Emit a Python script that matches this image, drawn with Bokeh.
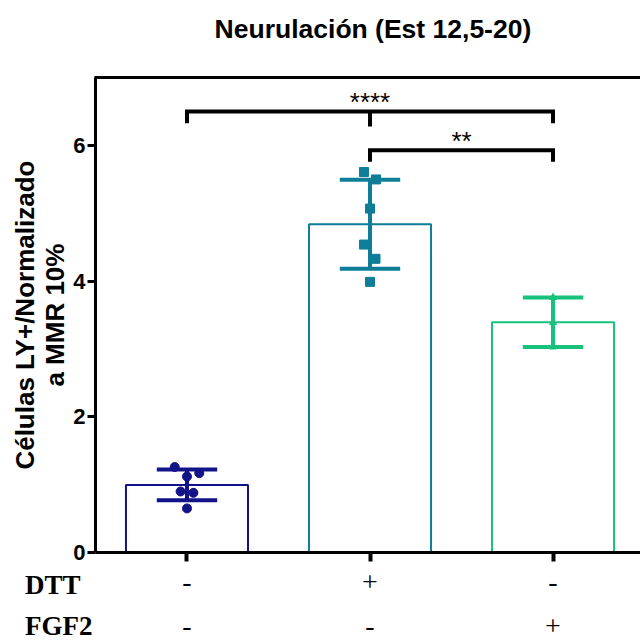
import numpy as np
from bokeh.plotting import figure
from bokeh.models import Range1d, LinearAxis, FixedTicker, Label
from bokeh.core.properties import value
from bokeh.embed import file_html
from bokeh.resources import INLINE

# ---- data ----
groups = ["ctrl", "DTT", "FGF2"]
xpos = [1, 2, 3]
dtt_signs = ["-", "+", "-"]
fgf2_signs = ["-", "-", "+"]
row_names = ["DTT", "FGF2"]
vals_ctrl = [1.26, 1.12, 1.17, 0.90, 0.88, 0.65]
vals_dtt = [5.61, 5.50, 5.07, 4.54, 4.33, 3.99]
vals_fgf2 = [3.76, 3.39, 3.03]
jit_ctrl = [-0.067, 0.0, 0.067, -0.035, 0.035, 0.0]
jit_dtt = [-0.033, 0.033, 0.0, -0.033, 0.03, 0.0]
jit_fgf2 = [0.0, 0.0, 0.0]
yticks = [0, 2, 4, 6]
comparisons = [(1, 3, "****", 6.50), (2, 3, "**", 5.93)]
title_text = "Neurulación (Est 12,5-20)"
ylabel_text = "Células LY+/Normalizado\na MMR 10%"

colors = ["#121289", "#0E7E98", "#19C27C"]
markers = ["circle", "square", "triangle"]
msizes = [9, 9, 7]
all_vals = [vals_ctrl, vals_dtt, vals_fgf2]
all_jit = [jit_ctrl, jit_dtt, jit_fgf2]

# plotting area in data units: x 0.5..3.478, y 0..7 ; canvas extends beyond it
XA, XB = 0.5, 3.478
YA, YB = 0.0, 7.0
X_LEFT = -0.019
PX = 183.0  # pixels per x unit
p = figure(width=640, height=641, output_backend="svg", toolbar_location=None,
           x_range=Range1d(X_LEFT, XB), y_range=Range1d(-1.312, 8.138),
           x_axis_location=None, y_axis_location=None,
           min_border_left=0, min_border_right=0, min_border_top=0,
           min_border_bottom=0)
p.outline_line_color = None
p.grid.visible = False

means = [float(np.mean(v)) for v in all_vals]
sds = [float(np.std(v, ddof=1)) for v in all_vals]

bw = 0.667
for i in range(3):
    x = xpos[i]
    p.vbar(x=[x], top=[means[i]], width=bw, bottom=0, fill_color="white",
           line_color=colors[i], line_width=2)
for i in range(3):
    x = xpos[i]
    lo, hi = means[i] - sds[i], means[i] + sds[i]
    p.segment(x0=[x], y0=[lo], x1=[x], y1=[hi], line_color=colors[i], line_width=4)
    p.segment(x0=[x - 0.165, x - 0.165], y0=[lo, hi], x1=[x + 0.165, x + 0.165],
              y1=[lo, hi], line_color=colors[i], line_width=4)
    xs = [x + j for j in all_jit[i]]
    p.scatter(x=xs, y=all_vals[i], marker=markers[i], size=msizes[i],
              fill_color=colors[i], line_color=colors[i])

# significance brackets
for (a, b, stars, yb) in comparisons:
    drop = 0.17
    p.line(x=[a, a, b, b], y=[yb - drop, yb, yb, yb - drop], line_color="black",
           line_width=4, line_join="miter")
    for m in xpos:
        if a < m < b:
            p.segment(x0=[m], y0=[yb], x1=[m], y1=[yb - drop - 0.05],
                      line_color="black", line_width=4)
    p.add_layout(Label(x=(a + b) / 2, y=yb + 0.14, text=stars, text_align="center",
                       text_baseline="alphabetic", text_font="Liberation Sans",
                       text_font_size="26px", text_color="black"))

# axes fixed at the plotting-area edges
yax = LinearAxis(fixed_location=XA, bounds=(YA, YB), ticker=FixedTicker(ticks=yticks),
                 axis_line_width=3, major_tick_line_width=3, major_tick_out=8,
                 major_tick_in=0, minor_tick_line_color=None,
                 major_label_text_font="Liberation Sans",
                 major_label_text_font_style="bold",
                 major_label_text_font_size="22px", major_label_text_color="black",
                 major_label_standoff=2)
p.add_layout(yax, "left")

# x axis: its tick labels are the DTT row of signs
xax = LinearAxis(fixed_location=YA, bounds=(XA, XB), ticker=FixedTicker(ticks=xpos),
                 axis_line_width=3, major_tick_line_width=4, major_tick_out=9,
                 major_tick_in=0, minor_tick_line_color=None,
                 major_label_overrides={xpos[i]: dtt_signs[i] for i in range(3)},
                 major_label_text_font="Liberation Serif",
                 major_label_text_font_size="28px", major_label_text_color="black",
                 major_label_standoff=11)
p.add_layout(xax, "below")

tax = LinearAxis(fixed_location=YB, bounds=(XA - 0.008, XB), ticker=FixedTicker(ticks=[]),
                 axis_line_width=3, major_tick_line_color=None,
                 minor_tick_line_color=None, major_label_text_font_size="0px")
p.add_layout(tax, "above")

# y axis title (rotated, two centred lines)
ylines = ylabel_text.split("\n")
p.text(x=[X_LEFT + 24 / PX], y=[3.5], text=[ylines[0]],
       angle=np.pi / 2, text_align="center", text_baseline="middle",
       text_font=value("Liberation Sans"), text_font_style="bold",
       text_font_size="26px", text_color="black")
p.text(x=[X_LEFT + 54 / PX], y=[3.5], text=[ylines[1]],
       angle=np.pi / 2, text_align="center", text_baseline="middle",
       text_font=value("Liberation Sans"), text_font_style="bold",
       text_font_size="26px", text_color="black")

# chart title
p.text(x=[2.016], y=[7.72], text=[title_text], text_align="center",
       text_baseline="alphabetic", text_font=value("Liberation Sans"),
       text_font_style="bold", text_font_size="26.5px", text_color="black")

# condition rows: names, and the FGF2 signs
row_y = [-0.472, -1.09]
for r in range(2):
    p.text(x=[0.115], y=[row_y[r]], text=[row_names[r]], text_align="left",
           text_baseline="alphabetic", text_font=value("Liberation Serif"),
           text_font_style="bold", text_font_size="27px", text_color="black")
p.text(x=xpos, y=[row_y[1]] * 3, text=fgf2_signs, text_align="center",
       text_baseline="alphabetic", text_font=value("Liberation Serif"),
       text_font_size="28px", text_color="black")

open("out.html", "w").write(file_html(p, INLINE))
